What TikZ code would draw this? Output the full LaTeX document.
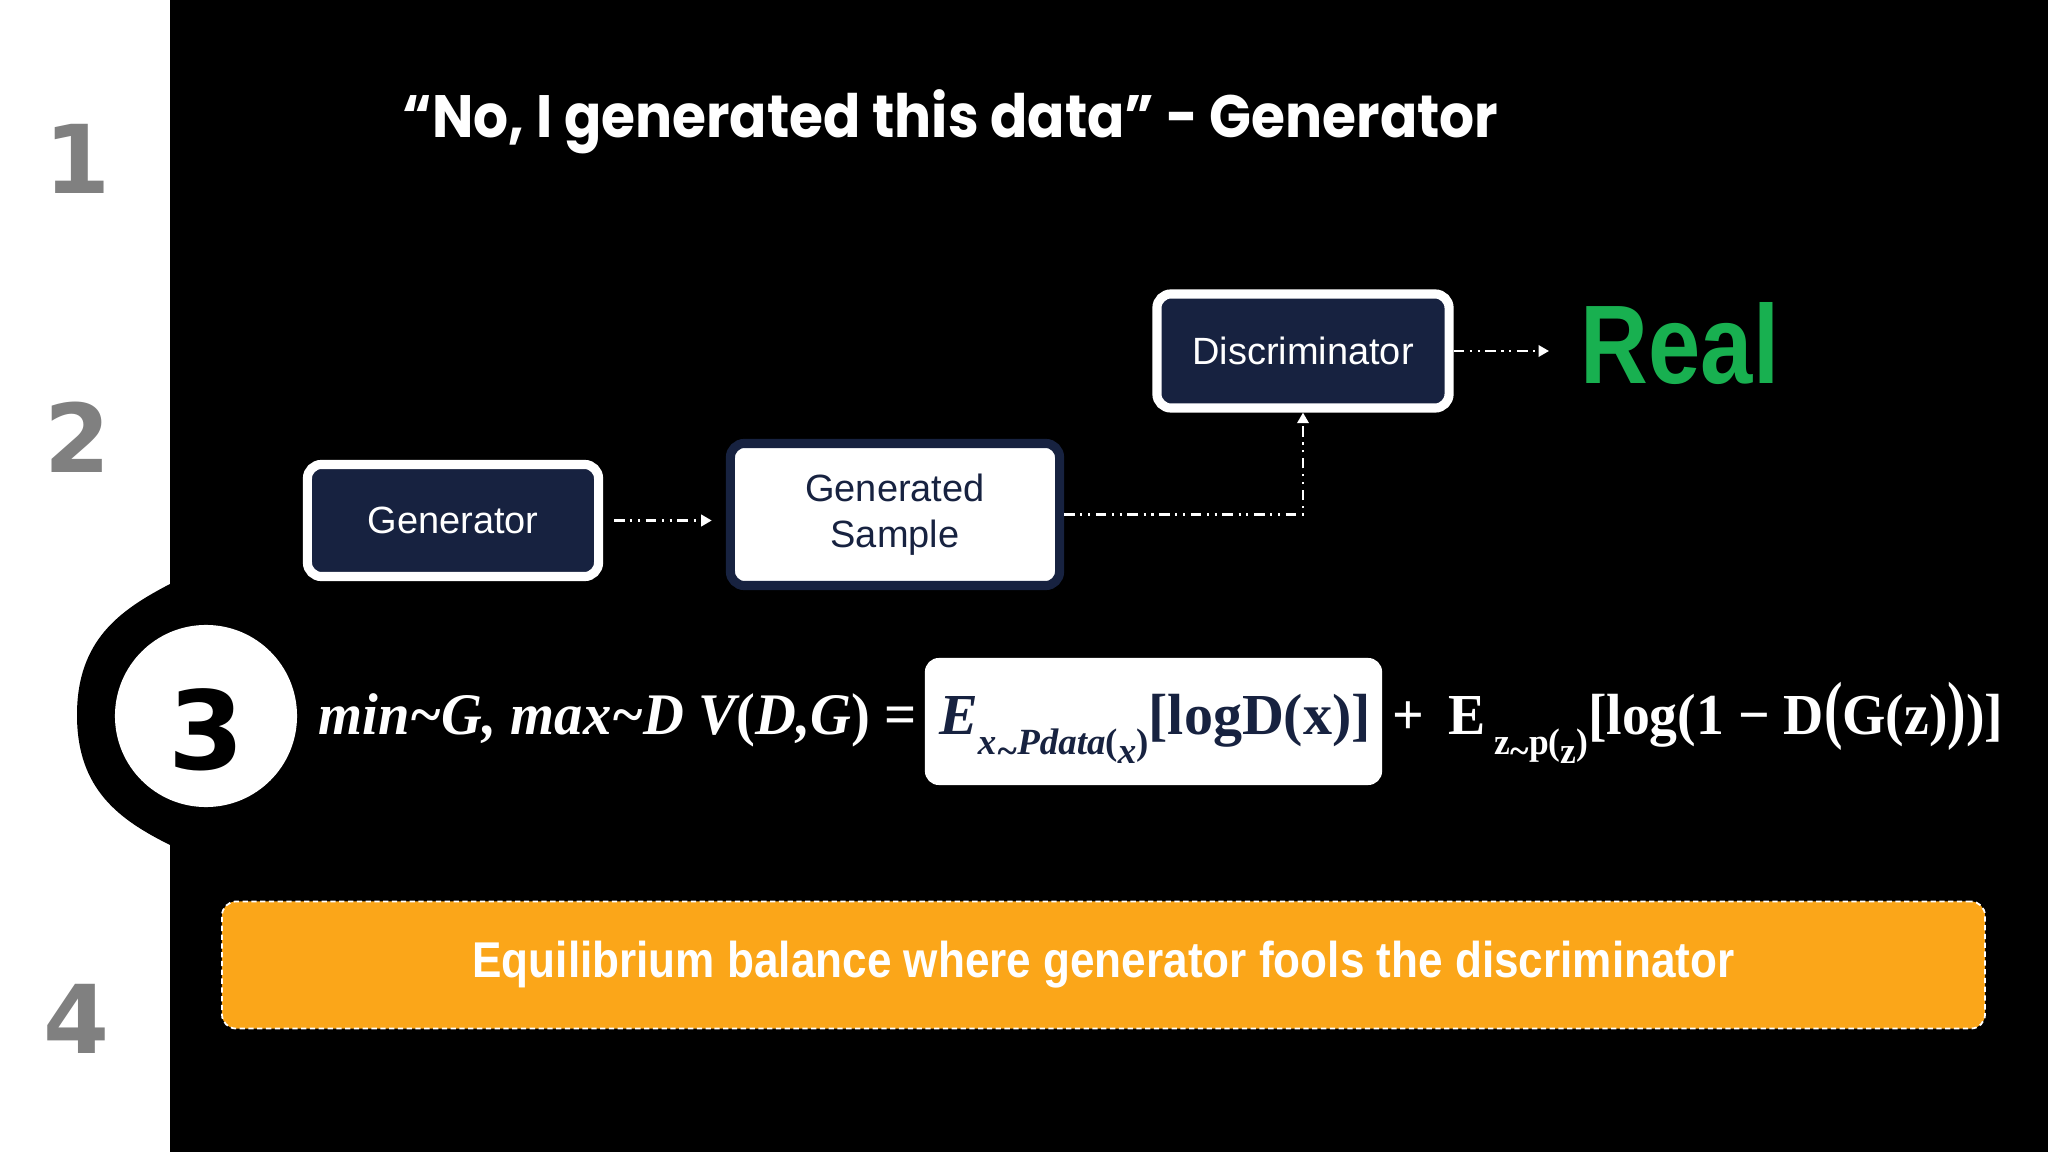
\documentclass[tikz,border=0pt]{standalone}
\usepackage{fontspec}
\usepackage{graphicx}
\usetikzlibrary{arrows.meta}
\setmainfont{Liberation Sans}
\newfontfamily\titlefont[FakeStretch=0.92]{Poppins}
\newfontfamily\realfont[FakeStretch=0.84]{Liberation Sans}
\newfontfamily\notefont[FakeStretch=0.877]{Liberation Sans}
\newfontfamily\eqfont{Liberation Serif}
\newfontfamily\eqfontn[FakeStretch=0.96]{Liberation Serif}
\newfontfamily\stepfont{DejaVu Sans}
\definecolor{boxnavy}{RGB}{23,34,64}
\definecolor{realgreen}{RGB}{24,176,80}
\definecolor{noteorange}{RGB}{251,166,25}
\definecolor{stepgray}{RGB}{128,128,128}
\newcommand{\sub}[1]{\raisebox{-0.35em}{\fontsize{10.5}{12}\selectfont #1}}
\newcommand{\lowtilde}{\raisebox{-0.25em}{\textasciitilde}}

\begin{document}
\begin{tikzpicture}[x=0.01cm, y=-0.01cm,
    darkbox/.style={rectangle, rounded corners=4pt, fill=boxnavy, draw=white, line width=2.6pt,
        text=white, font=\fontsize{10.8}{13}\selectfont},
    lightbox/.style={rectangle, rounded corners=4pt, fill=white, draw=boxnavy, line width=2.6pt,
        text=boxnavy, align=center, font=\fontsize{10.8}{13}\selectfont},
    flow/.style={draw=white, line width=0.75pt,
        dash pattern=on 3pt off 1.6pt on 0.6pt off 1.6pt on 0.6pt off 1.6pt,
        -{Triangle[length=3pt, width=3.2pt]}},
    stepnum/.style={text=stepgray, font=\stepfont\bfseries\fontsize{27}{30}\selectfont},
    eqtext/.style={text=white, inner sep=0pt, font=\eqfontn\bfseries\fontsize{16.5}{20}\selectfont}
]
    % Background
    \useasboundingbox (0,0) rectangle (2048,1152);
    \fill[black] (0,0) rectangle (2048,1152);
    \fill[white] (0,0) rectangle (170,1152);
    \fill[black] (170,584) .. controls (120,610) and (77,640) .. (77,715)
        .. controls (77,790) and (120,820) .. (170,845) -- cycle;

    % Step numbers
    \node[stepnum] (one) at (78,159) {1};
    \node[stepnum] (two) at (78,437) {2};
    \node[stepnum] (four) at (77,1019) {4};
    \node[circle, fill=white, minimum size=1.82cm, inner sep=0pt] (three) at (206,716) {};
    \node[stepnum, text=black, font=\stepfont\bfseries\fontsize{31}{34}\selectfont] (threenum) at (206,730) {3};

    % Title
    \node[anchor=west, inner sep=0pt, text=white, font=\titlefont\bfseries\fontsize{17}{20}\selectfont] (title) at (402,122)
        {“No, I generated this data” - Generator};

    % Flow
    \node[darkbox, minimum width=2.91cm, minimum height=1.12cm] (gen) at (453,520.5) {Generator};
    \node[lightbox, minimum width=3.29cm, minimum height=1.42cm] (sample) at (895,514.5) {Generated\\Sample};
    \node[darkbox, minimum width=2.92cm, minimum height=1.14cm] (disc) at (1303,351) {Discriminator};
    \node[anchor=west, inner sep=0pt, text=realgreen, font=\realfont\bfseries\fontsize{31.8}{34}\selectfont] (real) at (1580,344) {Real};

    \draw[flow, shorten <=3.1pt, shorten >=4pt] (gen.east) -- (gen.east -| sample.west);
    \draw[flow] (sample.east) -| (disc.south);
    \draw[flow, shorten >=8.8pt] (disc.east) -- (disc.east -| real.west);

    % Objective
    \node[fill=white, rounded corners=4pt, minimum width=4.57cm, minimum height=1.27cm] (ebox) at (1153.5,721.5) {};
    \node[eqtext, anchor=base east, font=\eqfontn\bfseries\fontsize{16.75}{20}\selectfont] (eqleft) at (917,734)
        {\itshape min\textasciitilde G, max\textasciitilde D V\upshape(\itshape D,G\upshape) =};
    \node[eqtext, anchor=base, text=boxnavy, font=\eqfont\bfseries\fontsize{16.5}{20}\selectfont] (eqmid) at (1155,734)
        {\itshape E\sub{\itshape x\lowtilde Pdata\upshape(\raisebox{-0.25em}{\itshape x}\upshape)}\upshape[logD(x)]};
    \node[eqtext, anchor=base west] (eqright) at (1392,734)
        {+\, E\,\sub{z\lowtilde p(\raisebox{-0.25em}{z})}[log(1 − D\scalebox{1}[1.3]{(}G(z)\scalebox{1}[1.3]{)})]};

    % Takeaway
    \node[fill=noteorange, draw=white, line width=0.5pt, dash pattern=on 1.5pt off 1pt, rounded corners=4pt,
        minimum width=17.62cm, minimum height=1.27cm, text=white,
        font=\notefont\bfseries\fontsize{14.3}{17}\selectfont] (note) at (1103.5,965)
        {Equilibrium balance where generator fools the discriminator};
\end{tikzpicture}
\end{document}
